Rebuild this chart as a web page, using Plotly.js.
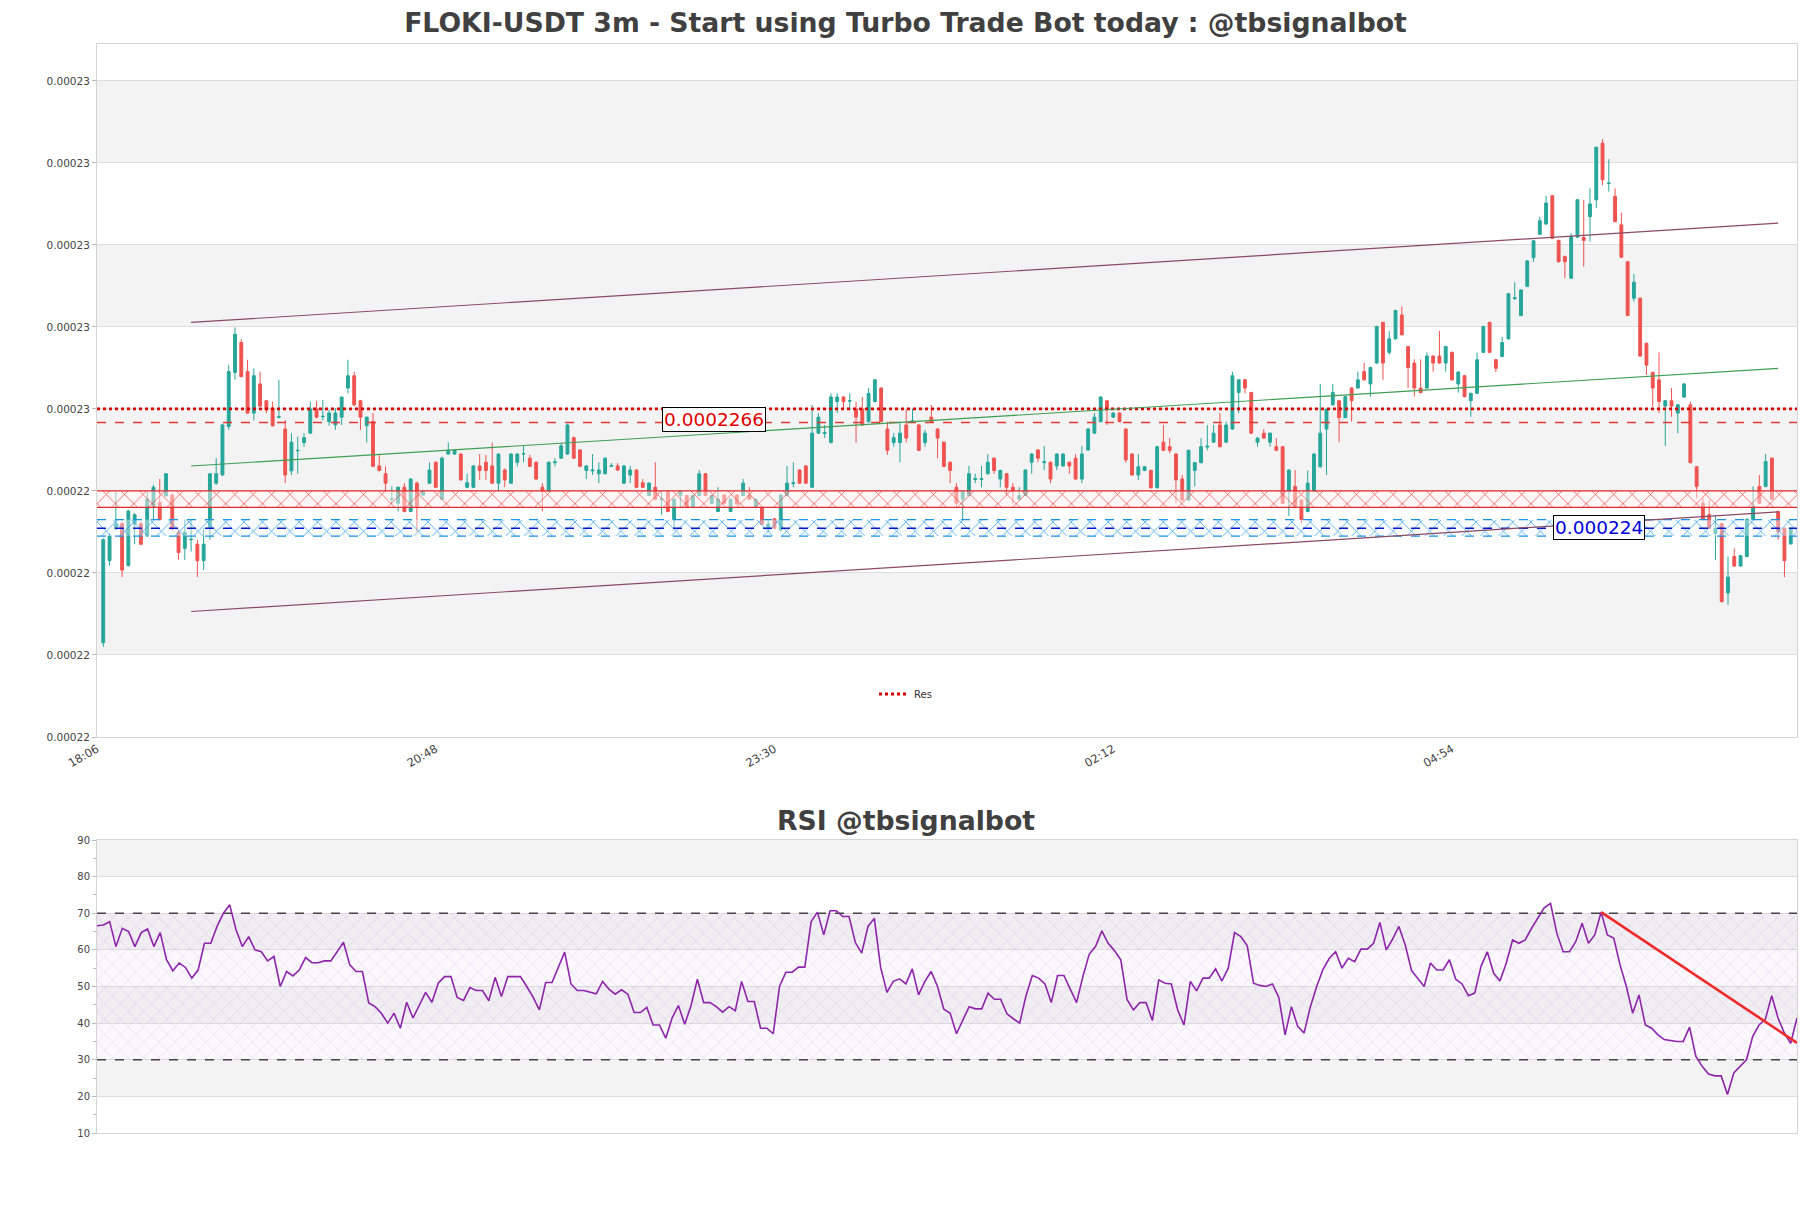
<!DOCTYPE html>
<html><head><meta charset="utf-8">
<script src="https://cdn.plot.ly/plotly-3.0.1.min.js"></script>
<style>html,body{margin:0;padding:0;background:#fff}#chart{width:1811px;height:1208px}</style>
</head><body><div id="chart"></div>
<script>
// ---- x axis labels (3m candles; axis starts at 18:06, one candle before the first bar)
const xTickIdx = [-1, 53, 107, 161, 215];
const xTickText = ['18:06', '20:48', '23:30', '02:12', '04:54'];

// ---- OHLC (FLOKI-USDT 3m)
const open = [
0.0002213,0.0002233,0.00022407,0.0002242,0.00022318,0.00022419,0.0002242,0.0002239,0.00022462,0.00022472,
0.00022488,0.0002249,0.00022399,0.0002236,0.00022381,0.0002237,0.0002233,0.00022409,0.00022519,0.00022539,
0.00022657,0.00022789,0.00022862,0.00022791,0.0002269,0.00022761,0.0002272,0.00022702,0.0002268,0.00022651,
0.00022549,0.00022598,0.00022618,0.00022641,0.000227,0.00022681,0.00022669,0.00022661,0.0002268,0.00022751,
0.00022781,0.0002272,0.00022659,0.00022669,0.00022561,0.00022542,0.0002248,0.0002247,0.00022509,0.0002245,
0.00022519,0.0002249,0.00022519,0.0002257,0.0002248,0.0002259,0.0002259,0.0002259,0.00022509,0.00022509,
0.00022561,0.0002257,0.00022561,0.00022519,0.00022551,0.00022519,0.0002257,0.0002259,0.0002258,0.0002257,
0.00022509,0.00022499,0.00022569,0.0002258,0.0002259,0.0002263,0.000226,0.0002255,0.00022549,0.00022542,
0.00022542,0.0002256,0.00022561,0.00022519,0.00022539,0.00022551,0.0002252,0.00022489,0.00022509,0.00022479,
0.00022499,0.0002243,0.00022489,0.00022489,0.0002246,0.00022489,0.00022542,0.0002247,0.0002245,0.0002249,
0.0002245,0.0002249,0.00022489,0.0002249,0.0002246,0.0002246,0.00022409,0.00022432,0.00022405,0.00022489,
0.00022518,0.00022551,0.00022561,0.00022509,0.00022641,0.0002264,0.00022618,0.00022718,0.00022729,0.00022719,
0.000227,0.000227,0.00022669,0.00022718,0.00022751,0.00022651,0.00022618,0.00022618,0.00022661,0.00022669,
0.00022661,0.00022618,0.0002268,0.00022651,0.00022619,0.0002257,0.00022509,0.0002248,0.00022489,0.00022528,
0.00022528,0.00022542,0.0002258,0.00022529,0.00022542,0.00022509,0.0002248,0.00022489,0.0002257,0.000226,
0.00022569,0.0002257,0.00022561,0.00022561,0.0002257,0.0002258,0.00022529,0.000226,0.00022641,0.00022669,
0.0002272,0.0002268,0.0002269,0.00022651,0.0002259,0.00022539,0.0002255,0.0002255,0.00022508,0.00022619,
0.00022608,0.0002259,0.00022529,0.00022478,0.0002255,0.00022569,0.00022607,0.00022619,0.00022661,0.00022619,
0.00022651,0.0002274,0.00022771,0.0002274,0.00022619,0.00022641,0.00022619,0.00022608,0.00022608,0.00022499,
0.00022511,0.00022478,0.0002245,0.00022499,0.00022559,0.00022651,0.0002271,0.0002272,0.00022679,0.00022751,
0.00022751,0.00022791,0.00022761,0.00022812,0.00022911,0.00022838,0.00022871,0.00022929,0.00022852,0.00022812,
0.00022751,0.00022751,0.00022829,0.00022829,0.00022812,0.00022838,0.00022761,0.00022781,0.0002272,0.00022738,
0.00022838,0.00022911,0.0002282,0.00022828,0.00022871,0.00022969,0.00022928,0.00022999,0.00023069,0.00023126,
0.00023151,0.0002322,0.00023111,0.00023072,0.00023019,0.00023119,0.00023118,0.00023169,0.0002321,0.00023348,
0.0002325,0.00023218,0.00023149,0.00023059,0.0002297,0.0002297,0.0002286,0.00022789,0.00022771,0.00022707,
0.0002272,0.0002269,0.00022729,0.0002271,0.00022559,0.0002247,0.00022442,0.00022397,0.0002242,0.00022251,
0.0002234,0.00022317,0.0002234,0.0002243,0.00022511,0.00022511,0.0002258,0.0002245,0.00022409,0.00022371];
const high = [
0.00022385,0.00022397,0.00022499,0.00022425,0.00022454,0.00022446,0.00022425,0.00022499,0.00022515,0.00022529,
0.00022543,0.00022494,0.00022405,0.0002243,0.0002243,0.00022381,0.00022409,0.00022543,0.0002258,0.00022664,
0.00022807,0.00022899,0.0002287,0.0002282,0.00022799,0.00022791,0.00022722,0.00022718,0.00022771,0.00022673,
0.00022641,0.00022633,0.00022641,0.00022718,0.0002272,0.00022722,0.00022698,0.00022702,0.0002273,0.0002282,
0.00022791,0.00022722,0.00022681,0.0002269,0.00022588,0.0002256,0.00022511,0.00022511,0.00022519,0.00022531,
0.00022523,0.00022501,0.0002257,0.00022572,0.00022584,0.00022618,0.000226,0.00022592,0.00022542,0.00022563,
0.0002259,0.00022588,0.00022618,0.00022592,0.00022555,0.00022592,0.00022592,0.0002261,0.00022588,0.00022572,
0.00022519,0.00022572,0.0002258,0.00022618,0.00022664,0.00022633,0.00022602,0.00022563,0.0002259,0.0002257,
0.00022582,0.00022568,0.00022568,0.00022563,0.00022561,0.00022553,0.00022529,0.00022521,0.0002257,0.00022499,
0.00022501,0.00022482,0.00022501,0.0002249,0.0002249,0.00022551,0.00022543,0.0002249,0.00022509,0.00022492,
0.00022482,0.00022492,0.00022529,0.00022509,0.00022482,0.00022462,0.0002243,0.00022434,0.00022492,0.00022561,
0.0002257,0.00022553,0.00022563,0.0002271,0.0002269,0.00022661,0.00022738,0.00022738,0.00022731,0.00022738,
0.00022718,0.00022729,0.00022751,0.00022773,0.00022753,0.00022669,0.00022641,0.00022669,0.000227,0.000227,
0.00022663,0.00022649,0.0002271,0.00022653,0.00022621,0.00022572,0.00022519,0.00022501,0.00022561,0.00022542,
0.00022561,0.0002259,0.00022582,0.00022552,0.00022544,0.00022519,0.00022509,0.00022553,0.00022592,0.00022602,
0.0002261,0.00022572,0.00022592,0.00022592,0.00022572,0.0002259,0.0002261,0.00022653,0.0002269,0.00022731,
0.00022722,0.00022692,0.00022692,0.00022653,0.00022592,0.0002259,0.00022561,0.00022552,0.0002261,0.00022661,
0.00022629,0.00022592,0.00022539,0.00022601,0.00022571,0.00022629,0.00022661,0.00022661,0.0002269,0.00022669,
0.00022791,0.00022773,0.00022773,0.00022742,0.00022631,0.00022651,0.00022643,0.00022629,0.0002261,0.00022553,
0.00022551,0.0002248,0.0002255,0.00022592,0.00022761,0.00022701,0.00022761,0.00022722,0.00022732,0.00022753,
0.00022791,0.00022812,0.00022803,0.00022903,0.00022913,0.0002289,0.00022942,0.0002295,0.00022854,0.00022821,
0.00022821,0.00022838,0.00022831,0.0002289,0.00022854,0.0002284,0.00022792,0.00022783,0.0002274,0.00022838,
0.00022903,0.00022913,0.00022822,0.00022876,0.00022983,0.00023009,0.00022992,0.00023063,0.00023112,0.00023169,
0.0002322,0.00023222,0.00023113,0.00023074,0.00023129,0.00023212,0.0002321,0.00023238,0.0002334,0.00023358,
0.00023309,0.00023238,0.00023179,0.00023061,0.00023029,0.00022972,0.00022862,0.00022791,0.00022838,0.00022722,
0.00022751,0.00022712,0.00022763,0.00022718,0.00022561,0.00022482,0.00022478,0.00022442,0.00022422,0.0002234,
0.0002236,0.00022344,0.00022433,0.00022511,0.00022539,0.0002259,0.00022582,0.00022452,0.00022411,0.00022411];
const low = [
0.0002212,0.00022318,0.00022405,0.0002229,0.00022316,0.0002237,0.00022368,0.00022389,0.0002243,0.00022428,
0.00022486,0.00022405,0.00022332,0.00022332,0.00022352,0.0002229,0.00022307,0.00022381,0.00022515,0.00022537,
0.00022649,0.00022771,0.00022777,0.00022688,0.00022672,0.00022706,0.0002269,0.00022657,0.00022677,0.00022519,
0.00022539,0.00022542,0.00022608,0.00022639,0.00022677,0.00022672,0.00022659,0.00022649,0.00022661,0.00022738,
0.00022706,0.00022649,0.00022618,0.00022558,0.00022548,0.00022499,0.0002247,0.0002245,0.00022448,0.00022448,
0.00022401,0.00022488,0.00022517,0.00022507,0.00022478,0.00022588,0.00022588,0.00022525,0.00022507,0.00022507,
0.00022527,0.00022527,0.00022517,0.00022499,0.00022509,0.00022517,0.0002256,0.0002257,0.00022558,0.00022527,
0.0002245,0.00022497,0.0002256,0.00022578,0.00022588,0.00022578,0.00022558,0.00022529,0.00022539,0.00022519,
0.0002254,0.0002256,0.00022549,0.00022517,0.00022519,0.00022507,0.00022507,0.00022487,0.00022478,0.00022442,
0.00022448,0.00022409,0.0002246,0.00022458,0.00022458,0.00022487,0.00022487,0.00022468,0.00022448,0.00022468,
0.00022448,0.00022466,0.00022487,0.00022478,0.00022458,0.00022417,0.000224,0.00022407,0.00022401,0.00022487,
0.00022509,0.00022517,0.00022517,0.00022507,0.00022639,0.00022629,0.00022616,0.0002269,0.00022702,0.00022698,
0.00022618,0.00022659,0.00022667,0.00022716,0.00022667,0.00022588,0.00022608,0.0002257,0.00022618,0.00022667,
0.00022597,0.00022608,0.00022667,0.0002258,0.00022558,0.00022519,0.0002246,0.0002243,0.00022487,0.00022519,
0.00022509,0.0002254,0.00022542,0.00022509,0.00022489,0.0002247,0.00022478,0.00022487,0.00022542,0.0002257,
0.00022551,0.00022519,0.00022551,0.00022559,0.00022542,0.00022527,0.00022519,0.00022598,0.00022639,0.00022667,
0.00022661,0.00022678,0.00022667,0.00022569,0.00022537,0.00022527,0.00022548,0.00022506,0.00022506,0.00022597,
0.00022592,0.0002247,0.00022476,0.00022476,0.00022511,0.00022567,0.00022599,0.00022617,0.00022606,0.00022617,
0.00022649,0.0002269,0.00022738,0.00022639,0.00022608,0.00022627,0.00022608,0.00022597,0.00022468,0.00022439,
0.00022458,0.00022421,0.00022448,0.00022497,0.00022557,0.00022539,0.00022708,0.00022619,0.00022677,0.00022669,
0.00022749,0.00022769,0.0002273,0.0002281,0.00022771,0.00022832,0.00022869,0.00022879,0.00022751,0.0002273,
0.00022738,0.00022749,0.00022791,0.0002281,0.00022791,0.00022769,0.0002274,0.00022728,0.00022681,0.00022736,
0.00022836,0.00022836,0.0002279,0.00022826,0.00022869,0.00022966,0.00022926,0.00022997,0.00023059,0.00023124,
0.00023149,0.00023114,0.00023057,0.00023019,0.00023017,0.00023117,0.00023047,0.00023108,0.0002319,0.00023246,
0.0002323,0.00023155,0.00023068,0.00022926,0.00022962,0.00022827,0.00022783,0.00022706,0.0002269,0.0002261,
0.00022681,0.00022641,0.00022727,0.00022567,0.00022482,0.00022429,0.00022407,0.00022332,0.00022228,0.00022222,
0.00022315,0.00022315,0.00022338,0.00022428,0.00022468,0.00022509,0.00022478,0.00022381,0.0002229,0.00022369];
const close = [
0.00022381,0.0002239,0.00022419,0.00022307,0.00022451,0.00022442,0.0002237,0.0002248,0.00022509,0.0002243,
0.00022542,0.00022407,0.0002235,0.00022399,0.00022382,0.0002233,0.0002237,0.00022542,0.00022542,0.00022661,
0.00022791,0.00022882,0.00022779,0.0002269,0.00022781,0.00022707,0.00022698,0.00022659,0.00022681,0.00022539,
0.00022619,0.00022599,0.0002263,0.000227,0.0002268,0.00022682,0.0002269,0.0002269,0.00022729,0.00022781,
0.0002271,0.0002268,0.0002268,0.0002256,0.0002255,0.00022519,0.00022481,0.00022509,0.0002245,0.00022529,
0.0002246,0.00022499,0.00022551,0.00022509,0.0002258,0.00022599,0.00022599,0.00022527,0.0002252,0.00022561,
0.0002255,0.0002255,0.00022519,0.0002259,0.00022527,0.0002259,0.0002259,0.00022591,0.0002256,0.00022529,
0.00022499,0.0002257,0.00022571,0.0002261,0.00022661,0.0002258,0.0002256,0.00022561,0.00022551,0.00022551,
0.0002258,0.00022562,0.00022551,0.00022561,0.00022551,0.00022509,0.00022509,0.00022519,0.0002248,0.00022481,
0.0002245,0.0002248,0.00022499,0.0002246,0.00022489,0.00022542,0.00022489,0.00022489,0.0002248,0.0002247,
0.0002248,0.00022468,0.00022519,0.0002248,0.0002248,0.00022419,0.00022419,0.00022409,0.0002249,0.00022519,
0.0002252,0.00022519,0.00022519,0.00022641,0.0002268,0.00022642,0.00022729,0.00022729,0.00022718,0.0002272,
0.0002268,0.00022661,0.00022738,0.00022771,0.00022669,0.00022599,0.0002263,0.00022641,0.00022629,0.00022671,
0.00022599,0.00022641,0.00022669,0.00022629,0.0002256,0.0002255,0.0002247,0.00022499,0.00022542,0.0002253,
0.0002253,0.0002257,0.0002255,0.0002255,0.00022509,0.00022499,0.00022489,0.00022551,0.0002259,0.0002258,
0.00022571,0.00022529,0.0002259,0.0002259,0.00022561,0.00022529,0.0002259,0.00022651,0.0002268,0.00022729,
0.000227,0.0002269,0.00022669,0.00022576,0.00022539,0.00022559,0.00022559,0.00022508,0.00022608,0.00022599,
0.00022599,0.00022527,0.00022478,0.00022599,0.00022569,0.00022608,0.00022609,0.00022641,0.00022608,0.00022661,
0.00022781,0.00022771,0.00022751,0.00022641,0.00022629,0.00022629,0.00022641,0.00022599,0.0002247,0.00022551,
0.0002246,0.0002243,0.00022519,0.0002259,0.00022641,0.00022699,0.0002274,0.00022679,0.0002273,0.0002272,
0.00022771,0.00022771,0.00022801,0.00022901,0.00022812,0.00022871,0.0002294,0.00022881,0.00022801,0.00022751,
0.0002274,0.00022829,0.00022812,0.00022812,0.00022852,0.00022771,0.0002279,0.0002273,0.00022738,0.0002282,
0.00022901,0.00022838,0.00022799,0.00022862,0.00022981,0.00022971,0.0002299,0.00023061,0.0002311,0.00023159,
0.00023202,0.00023116,0.00023059,0.00023059,0.0002312,0.0002321,0.00023111,0.000232,0.00023338,0.00023259,
0.00023251,0.00023157,0.0002307,0.00022928,0.00023009,0.00022829,0.00022807,0.00022751,0.00022718,0.0002272,
0.00022707,0.0002271,0.00022761,0.00022569,0.00022511,0.00022431,0.00022409,0.00022409,0.0002223,0.0002229,
0.00022317,0.00022342,0.00022431,0.00022462,0.0002247,0.00022572,0.0002248,0.00022401,0.0002233,0.00022409];

// ---- RSI
const rsi = [
66.6,66.8,67.7,60.9,65.9,65.0,60.9,64.7,65.7,60.9,
64.7,57.3,54.3,56.4,55.2,52.3,54.5,61.8,61.8,66.4,
70.0,72.3,65.5,60.9,63.6,60.0,59.5,57.0,58.2,50.0,
54.1,52.9,54.5,57.9,56.5,56.5,57.0,57.0,59.5,62.1,
55.9,54.1,54.1,45.5,44.5,42.7,40.0,42.7,38.6,45.7,
41.4,44.8,48.4,45.7,50.9,52.7,52.7,47.0,46.2,49.7,
48.9,48.9,46.1,52.5,47.3,52.7,52.7,52.7,50.0,47.1,
43.6,51.1,51.1,55.2,59.4,50.7,48.9,48.9,48.5,48.0,
51.4,49.3,47.9,49.1,47.9,42.9,42.9,44.3,39.5,39.5,
35.9,41.4,44.8,39.7,44.8,52.0,45.6,45.6,44.5,43.0,
44.5,43.4,51.4,45.9,45.9,38.6,38.6,37.1,50.0,53.9,
53.9,55.3,55.3,67.7,70.3,64.1,70.7,70.7,69.1,69.1,
62.0,59.1,66.4,68.6,55.2,48.4,51.4,52.1,50.7,54.8,
47.7,51.4,54.1,50.0,43.8,42.7,37.1,40.7,44.5,43.9,
43.9,48.2,46.5,46.5,42.5,41.2,40.0,47.5,53.0,52.3,
50.7,45.6,53.0,53.0,49.1,45.6,52.7,58.8,60.9,65.2,
61.8,59.8,57.3,46.4,43.6,45.6,45.6,40.7,51.8,50.9,
50.7,43.6,39.5,51.4,48.8,52.3,52.3,54.8,51.5,55.0,
64.7,63.6,61.2,50.9,50.3,50.0,50.7,47.0,36.8,44.5,
39.1,37.3,44.5,50.0,54.7,57.7,59.5,55.0,57.7,56.8,
60.2,60.2,61.8,67.5,60.0,62.9,66.4,61.4,54.4,52.1,
50.0,56.4,54.5,54.5,57.3,52.0,50.7,47.5,48.2,55.5,
59.5,53.6,51.5,56.4,62.7,61.8,62.7,65.9,68.8,71.5,
72.7,64.5,59.5,59.5,62.3,67.3,61.8,64.1,70.3,64.1,
63.2,55.9,50.0,42.7,47.7,39.5,38.6,36.8,35.5,35.2,
35.0,35.0,38.9,30.9,28.2,26.1,25.6,25.6,20.5,26.4,
28.2,30.0,36.4,39.5,41.1,47.5,41.4,37.3,34.5,41.4];

// ---- price axis ticks (labels as printed on the chart)
const priceTickVals = [0.000219,0.000221,0.000223,0.000225,0.000227,0.000229,0.000231,0.000233,0.000235];
const priceTickText = ['0.00022','0.00022','0.00022','0.00022','0.00023','0.00023','0.00023','0.00023','0.00023'];
const priceRange = [0.000219, 0.0002359];

// ---- levels, zones, channel
const resLevel = [0.000227];            // "Res" dotted line
const resLine = [0.00022667];           // dashed red level
const resLabel = ['0.0002266'];
const supLine = [0.00022409];           // dashed blue level
const supLabel = ['0.000224'];
const resZone = [0.0002246, 0.000225];
const supZone = [0.0002239, 0.0002243];
const channelX = [14, 267];
const channelUpper = [0.00022911, 0.00023153];
const channelMid = [0.00022561, 0.00022799];
const channelLower = [0.00022206, 0.00022449];

// ---- RSI axis / levels
const rsiTicks = [10,20,30,40,50,60,70,80,90];
const rsiLevels = [30, 70];
const rsiDivX = [238, 269];
const rsiDivY = [70.3, 34.6];

// ================= build =================
const N = close.length;
const idx = close.map((_, i) => i);
const xMain = [-1, N];          // candle axis range
const xRsi = [0, N - 1];        // rsi axis range
const FONT = 'DejaVu Sans, sans-serif';

function hline(xr, y, line, extra) {
  return Object.assign({type:'scatter', mode:'lines', x:[xr[0], xr[1]], y:[y, y],
    line:line, hoverinfo:'skip', showlegend:false}, extra||{});
}
function zone(xr, yz, color, bg, xa, ya, patternSize, solidity) {
  return {type:'scatter', mode:'lines', x:[xr[0], xr[1], xr[1], xr[0], xr[0]],
    y:[yz[0], yz[0], yz[1], yz[1], yz[0]], fill:'toself', xaxis:xa, yaxis:ya,
    line:{width:0}, fillcolor:'rgba(0,0,0,0)',
    fillpattern:{shape:'x', fgcolor:color, bgcolor:bg, size:patternSize, solidity:solidity},
    hoverinfo:'skip', showlegend:false};
}

const traces = [];
// resistance zone (red hatch)
traces.push(zone(xMain, resZone, '#e53935', 'rgba(255,240,240,0.5)', 'x', 'y', 13, 0.1));
traces.push({type:'scatter', mode:'lines', x:[xMain[0], xMain[1], null, xMain[0], xMain[1]],
  y:[resZone[0], resZone[0], null, resZone[1], resZone[1]], line:{color:'#e02b2b', width:1.3},
  hoverinfo:'skip', showlegend:false});
// support zone (blue hatch)
traces.push(zone(xMain, supZone, '#1a96e0', 'rgba(240,248,255,0.4)', 'x', 'y', 13, 0.1));
traces.push({type:'scatter', mode:'lines', x:[xMain[0], xMain[1], null, xMain[0], xMain[1]],
  y:[supZone[0], supZone[0], null, supZone[1], supZone[1]], line:{color:'#1a96e0', width:1.3, dash:'dash'},
  hoverinfo:'skip', showlegend:false});

// candles
traces.push({type:'candlestick', x:idx, open:open, high:high, low:low, close:close,
  increasing:{line:{color:'#26a69a', width:1}, fillcolor:'#26a69a'},
  decreasing:{line:{color:'#ef5350', width:1}, fillcolor:'#ef5350'},
  whiskerwidth:0, hoverinfo:'skip', showlegend:false, xaxis:'x', yaxis:'y'});

// levels
traces.push(hline(xMain, supLine[0], {color:'#0a14c8', width:1.4, dash:'dash'}));
traces.push(hline(xMain, resLevel[0], {color:'#d50000', width:2.8, dash:'dot'}, {name:'Res', showlegend:true}));
traces.push(hline(xMain, resLine[0], {color:'#e53935', width:1.4, dash:'dash'}));

// channel
traces.push({type:'scatter', mode:'lines', x:channelX, y:channelUpper, line:{color:'#8a4a66', width:1.2}, hoverinfo:'skip', showlegend:false});
traces.push({type:'scatter', mode:'lines', x:channelX, y:channelLower, line:{color:'#8a4a66', width:1.2}, hoverinfo:'skip', showlegend:false});
traces.push({type:'scatter', mode:'lines', x:channelX, y:channelMid, line:{color:'#3e9e52', width:1.1}, hoverinfo:'skip', showlegend:false});

// RSI
traces.push({type:'scatter', mode:'lines', x:[xRsi[0], xRsi[1], xRsi[1], xRsi[0], xRsi[0]],
  y:[rsiLevels[0], rsiLevels[0], rsiLevels[1], rsiLevels[1], rsiLevels[0]], fill:'toself',
  fillcolor:'rgba(200,170,225,0.12)', line:{width:0},
  fillpattern:{shape:'x', fgcolor:'rgba(170,130,205,0.38)', bgcolor:'rgba(225,205,240,0.14)', size:11, solidity:0.08},
  xaxis:'x2', yaxis:'y2', hoverinfo:'skip', showlegend:false});
rsiLevels.forEach(l => traces.push(hline(xRsi, l, {color:'#444', width:1.3, dash:'dash'}, {xaxis:'x2', yaxis:'y2'})));
traces.push({type:'scatter', mode:'lines', x:idx, y:rsi, line:{color:'#8e24aa', width:1.6},
  xaxis:'x2', yaxis:'y2', hoverinfo:'skip', showlegend:false});
traces.push({type:'scatter', mode:'lines', x:rsiDivX, y:rsiDivY, line:{color:'#ee2a2a', width:2.6},
  xaxis:'x2', yaxis:'y2', hoverinfo:'skip', showlegend:false});

// background bands
const shapes = [];
for (let k = 1; k < priceTickVals.length - 1; k += 2) {
  shapes.push({type:'rect', xref:'x domain', yref:'y', x0:0, x1:1, y0:priceTickVals[k], y1:priceTickVals[k+1],
    fillcolor:'#f3f3f3', line:{width:0}, layer:'below'});
}
for (let k = 1; k < rsiTicks.length - 1; k += 2) {
  shapes.push({type:'rect', xref:'x2 domain', yref:'y2', x0:0, x1:1, y0:rsiTicks[k], y1:rsiTicks[k+1],
    fillcolor:'#f3f3f3', line:{width:0}, layer:'below'});
}

const W = 1811, H = 1208;
const tickFont = {family:FONT, size:10.5, color:'#444'};
const layout = {
  width:W, height:H, autosize:false, margin:{l:0, r:0, t:0, b:0},
  paper_bgcolor:'#ffffff', plot_bgcolor:'#ffffff',
  font:{family:FONT, color:'#444'},
  boxgap:0.35,
  title:{text:'FLOKI-USDT 3m - Start using Turbo Trade Bot today : @tbsignalbot',
    x:0.5, xanchor:'center', y:1 - 23/H, yanchor:'middle', yref:'container',
    font:{family:FONT, size:26.7, color:'#404040', weight:'bold'}},
  xaxis:{domain:[97/W, 1797/W], range:xMain, rangeslider:{visible:false}, showgrid:false, zeroline:false,
    tickmode:'array', tickvals:xTickIdx, ticktext:xTickText, tickangle:-30,
    tickfont:{family:FONT, size:11.5, color:'#444'},
    showline:true, mirror:true, linecolor:'#d4d4d4', linewidth:1, ticks:'', anchor:'y'},
  yaxis:{domain:[1 - 737/H, 1 - 44/H], range:priceRange, tickmode:'array', tickvals:priceTickVals,
    ticktext:priceTickText, tickfont:tickFont, showgrid:true, gridcolor:'#dddddd', gridwidth:1, zeroline:false,
    showline:true, mirror:true, linecolor:'#d4d4d4', linewidth:1, ticks:'outside', ticklen:4, tickcolor:'#bbbbbb', anchor:'x'},
  xaxis2:{domain:[97/W, 1797/W], range:xRsi, showgrid:false, zeroline:false, showticklabels:false, ticks:'',
    showline:true, mirror:true, linecolor:'#d4d4d4', linewidth:1, anchor:'y2'},
  yaxis2:{domain:[1 - 1133/H, 1 - 840/H], range:[rsiTicks[0], rsiTicks[rsiTicks.length-1]], tickmode:'array', tickvals:rsiTicks,
    tickfont:{family:FONT, size:10, color:'#444'}, showgrid:true, gridcolor:'#dddddd', gridwidth:1, zeroline:false,
    showline:true, mirror:true, linecolor:'#d4d4d4', linewidth:1, ticks:'outside', ticklen:4, tickcolor:'#bbbbbb',
    minor:{dtick:5, ticks:'outside', ticklen:3, tickcolor:'#bbbbbb', showgrid:false}, anchor:'x2'},
  showlegend:true,
  legend:{x:0.5, xanchor:'center', y:1 - 694/H, yanchor:'middle', bgcolor:'rgba(0,0,0,0)',
    font:{family:FONT, size:10, color:'#333'}, orientation:'h', itemwidth:30},
  shapes:shapes,
  annotations:[
    {text:'RSI @tbsignalbot', xref:'paper', yref:'paper', x:0.5, y:1 - 820/H, xanchor:'center', yanchor:'middle',
      showarrow:false, font:{family:FONT, size:26.7, color:'#404040', weight:'bold'}},
    {text:resLabel[0], xref:'x', yref:'y', x:97.4, y:resLine[0], yshift:3, xanchor:'center', yanchor:'middle', showarrow:false,
      font:{family:FONT, size:18.5, color:'#e00000'}, bgcolor:'#ffffff', bordercolor:'#000000', borderwidth:1, borderpad:1},
    {text:supLabel[0], xref:'x', yref:'y', x:238.5, y:supLine[0], yshift:1, xanchor:'center', yanchor:'middle', showarrow:false,
      font:{family:FONT, size:18.5, color:'#0000dd'}, bgcolor:'#ffffff', bordercolor:'#000000', borderwidth:1, borderpad:1}
  ]
};
Plotly.newPlot('chart', traces, layout, {displayModeBar:false, staticPlot:true});
</script></body></html>
